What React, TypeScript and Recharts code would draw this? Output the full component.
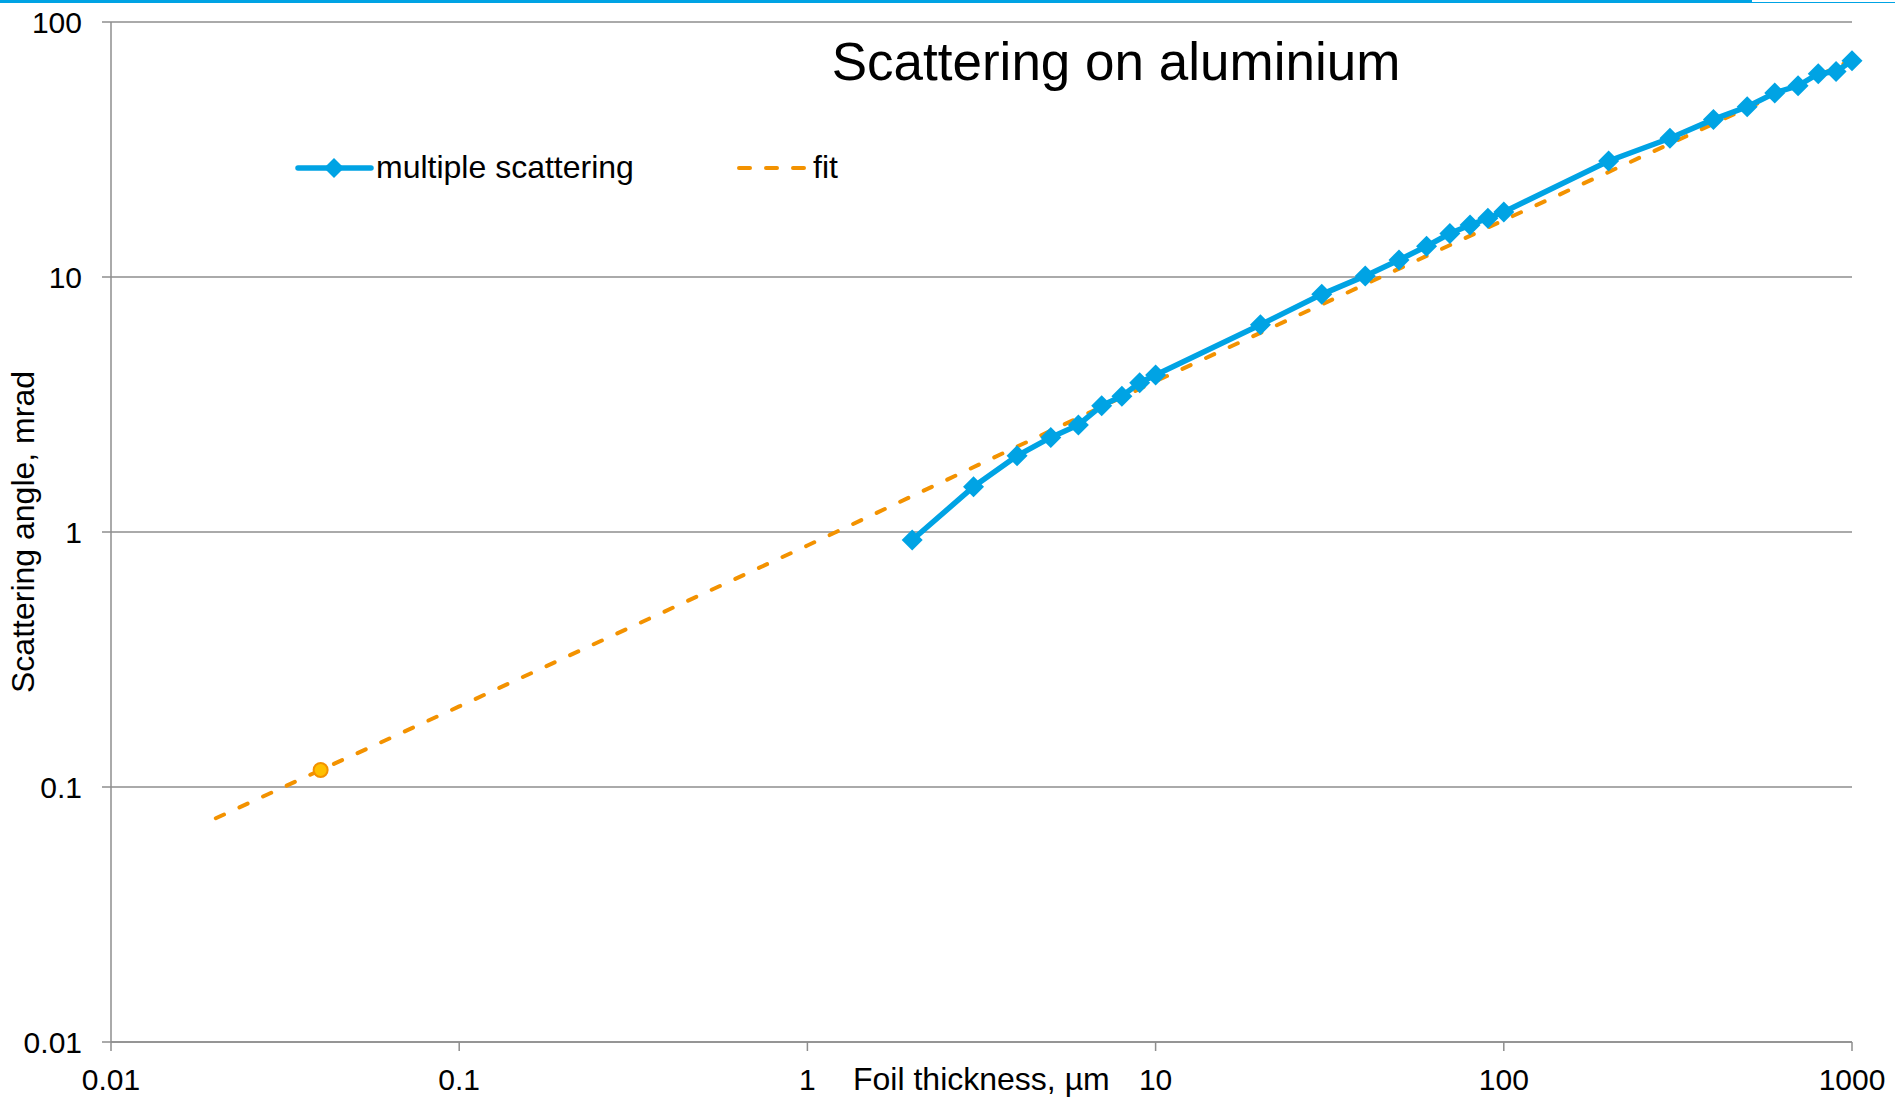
import React from 'react';
import { ComposedChart, Line, Scatter, XAxis, YAxis, CartesianGrid, Legend, Label } from 'recharts';

// multiple scattering measurements (foil thickness µm -> angle mrad)
const thicknessUm = [2, 3, 4, 5, 6, 7, 8, 9, 10, 20, 30, 40, 50, 60, 70, 80, 90, 100, 200, 300, 400, 500, 600, 700, 800, 900, 1000];
const angleMrad = [0.93, 1.505, 1.99, 2.35, 2.63, 3.13, 3.41, 3.85, 4.13, 6.5, 8.55, 10.1, 11.66, 13.2, 14.8, 16.0, 17.0, 18.0, 28.5, 35.0, 41.5, 46.5, 52.7, 56.2, 62.7, 63.9, 70.5];

// fit curve
const fitThickness = [0.02, 0.04, 0.1, 1, 10, 100, 1000];
const fitAngle = [0.0754, 0.1166, 0.207, 0.885, 3.9, 16.7, 71];

// single highlighted point on the fit
const markerThickness = [0.04];
const markerAngle = [0.1166];

const xTicks = [0.01, 0.1, 1, 10, 100, 1000];
const yTicks = [0.01, 0.1, 1, 10, 100];

const seriesNames = ['multiple scattering', 'fit'];
const titleText = 'Scattering on aluminium';
const xLabel = 'Foil thickness, µm';
const yLabel = 'Scattering angle, mrad';

const BLUE = '#00A3E4';
const ORANGE = '#F39200';
const GOLD = '#FFC000';
const GRID = '#8E8E8E';
const FONT = '"Liberation Sans", Arial, sans-serif';

const measured = thicknessUm.map((x, i) => ({ x, y: angleMrad[i] }));
const fit = fitThickness.map((x, i) => ({ x, y: fitAngle[i] }));
const marker = markerThickness.map((x, i) => ({ x, y: markerAngle[i] }));

const Diamond = (props: any) => {
  const { cx, cy, index } = props;
  if (cx == null || cy == null) return <g key={`d-${index}`} />;
  const r = 10.5;
  return (
    <polygon
      key={`d-${index}`}
      points={`${cx},${cy - r} ${cx + r},${cy} ${cx},${cy + r} ${cx - r},${cy}`}
      fill={BLUE}
    />
  );
};

const GoldDot = (props: any) => {
  const { cx, cy } = props;
  return <circle cx={cx} cy={cy} r={7} fill={GOLD} stroke={ORANGE} strokeWidth={2} />;
};

const LegendContent = () => (
  <svg width={600} height={40} style={{ overflow: 'visible' }}>
    <line x1={8} y1={20} x2={81} y2={20} stroke={BLUE} strokeWidth={5.5} strokeLinecap="round" />
    <polygon points="44,10 54,20 44,30 34,20" fill={BLUE} />
    <text x={86} y={30} fontSize={32} fontFamily={FONT} fill="#000">{seriesNames[0]}</text>
    <line x1={449} y1={20} x2={515} y2={20} stroke={ORANGE} strokeWidth={4} strokeLinecap="round" strokeDasharray="11 16" />
    <text x={523} y={30} fontSize={32} fontFamily={FONT} fill="#000">{seriesNames[1]}</text>
  </svg>
);

export default function App() {
  return (
    <div style={{ position: 'absolute', left: 0, top: 0, width: 1895, height: 1100, background: '#fff', fontFamily: FONT, overflow: 'hidden' }}>
      <div style={{ position: 'absolute', left: 0, top: 0, width: 1752, height: 3.4, background: BLUE }} />
      <div style={{ position: 'absolute', left: 1752, top: 1.7, width: 143, height: 1.7, background: BLUE }} />
      <ComposedChart
        width={1895}
        height={1100}
        margin={{ top: 22, right: 43, bottom: 0, left: 0 }}
        style={{ fontFamily: FONT }}
      >
        <CartesianGrid horizontal vertical={false} stroke={GRID} strokeWidth={1.5} />
        <XAxis
          dataKey="x"
          type="number"
          scale="log"
          domain={[0.01, 1000]}
          ticks={xTicks}
          height={58}
          tickSize={9}
          tickMargin={18}
          stroke={GRID}
          strokeWidth={1.5}
          tick={{ fill: '#000', fontSize: 30, fontFamily: FONT }}
          tickFormatter={(v: number) => String(v)}
        >
          <Label
            content={() => (
              <text x={853} y={1090} fontSize={32} fontFamily={FONT} fill="#000">{xLabel}</text>
            )}
          />
        </XAxis>
        <YAxis
          dataKey="y"
          type="number"
          scale="log"
          domain={[0.01, 100]}
          ticks={yTicks}
          width={111}
          tickSize={9}
          tickMargin={20}
          stroke={GRID}
          strokeWidth={1.5}
          tick={{ fill: '#000', fontSize: 30, fontFamily: FONT }}
          tickFormatter={(v: number) => String(v)}
        >
          <Label
            content={() => (
              <text
                x={34}
                y={532}
                transform="rotate(-90 34 532)"
                textAnchor="middle"
                fontSize={32}
                fontFamily={FONT}
                fill="#000"
              >
                {yLabel}
              </text>
            )}
          />
        </YAxis>
        <Legend
          layout="horizontal"
          verticalAlign="middle"
          align="center"
          wrapperStyle={{ left: 290, top: 148, width: 600, height: 40 }}
          content={() => <LegendContent />}
        />
        <Line
          data={fit}
          dataKey="y"
          name={seriesNames[1]}
          stroke={ORANGE}
          strokeWidth={4}
          strokeDasharray="9 17"
          strokeLinecap="round"
          dot={false}
          activeDot={false}
          isAnimationActive={false}
        />
        <Line
          data={measured}
          dataKey="y"
          name={seriesNames[0]}
          stroke={BLUE}
          strokeWidth={5.5}
          dot={(p: any) => <Diamond {...p} />}
          activeDot={false}
          isAnimationActive={false}
        />
        <Scatter
          data={marker}
          dataKey="y"
          name="point"
          shape={(p: any) => <GoldDot {...p} />}
          isAnimationActive={false}
        />
      </ComposedChart>
      <div
        style={{
          position: 'absolute',
          left: 816,
          width: 600,
          top: 35,
          textAlign: 'center',
          fontSize: 53,
          lineHeight: '53px',
          fontFamily: FONT,
          color: '#000',
          whiteSpace: 'nowrap',
        }}
      >
        {titleText}
      </div>
    </div>
  );
}
